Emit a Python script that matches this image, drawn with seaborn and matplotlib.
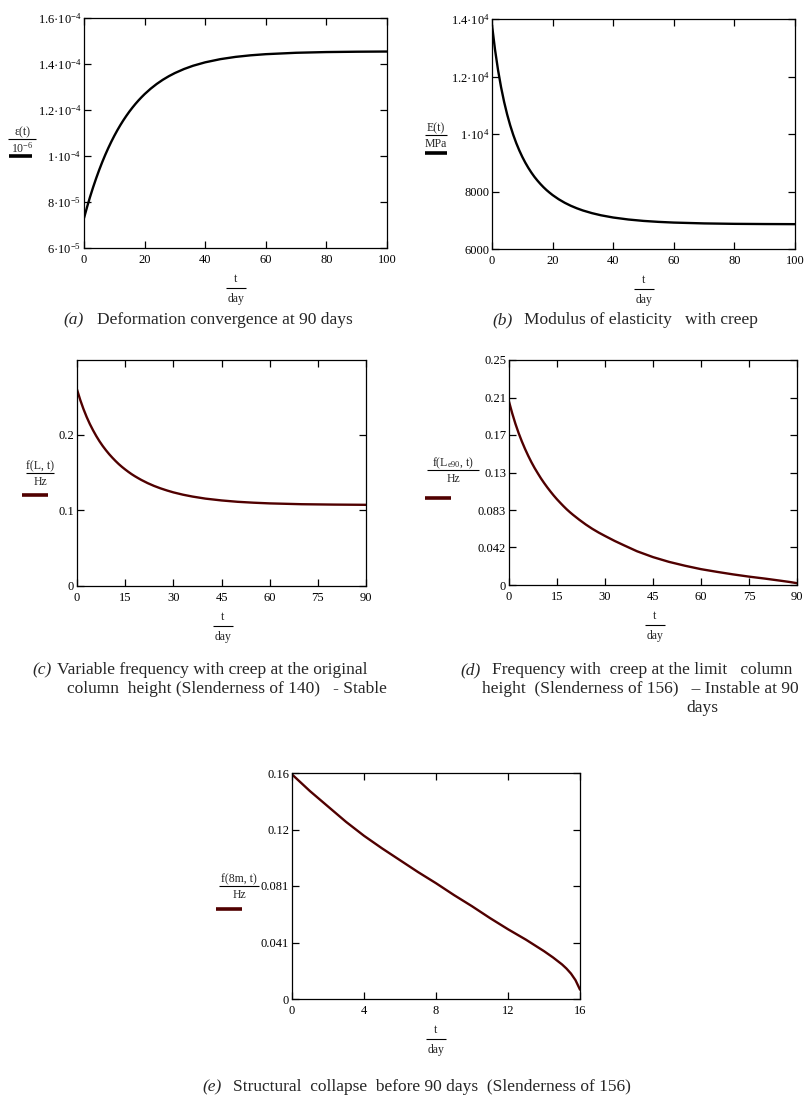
import numpy as np
import pandas as pd
import matplotlib
matplotlib.use("Agg")
import matplotlib.pyplot as plt
from matplotlib.lines import Line2D
from matplotlib.ticker import FixedLocator, FixedFormatter
import seaborn as sns

# (a) deformation eps(t), values in units of 1e-5
t_a = [0, 1, 2, 3, 4, 5, 6, 7, 8, 9, 10, 11, 12, 13, 14, 15, 16, 17, 18, 19, 20,
       22, 24, 26, 28, 30, 33, 36, 40, 45, 50, 55, 60, 70, 80, 90, 100]
eps_a = [7.30, 7.776, 8.222, 8.638, 9.026, 9.389, 9.729, 10.046, 10.342, 10.618, 10.877,
         11.119, 11.344, 11.555, 11.751, 11.936, 12.107, 12.268, 12.418, 12.558, 12.690,
         12.926, 13.133, 13.313, 13.470, 13.607, 13.781, 13.924, 14.073, 14.211, 14.309,
         14.378, 14.427, 14.488, 14.519, 14.534, 14.542]
yticks_a = [6e-5, 8e-5, 1e-4, 1.2e-4, 1.4e-4, 1.6e-4]
ylabels_a = ["6·10$^{-5}$", "8·10$^{-5}$", "1·10$^{-4}$", "1.2·10$^{-4}$", "1.4·10$^{-4}$", "1.6·10$^{-4}$"]

# (b) modulus E(t) in MPa
t_b = t_a
E_b = [13790, 12932, 12220, 11624, 11116, 10681, 10303, 9974, 9685, 9431, 9204, 9002, 8821,
       8658, 8510, 8379, 8259, 8149, 8049, 7960, 7876, 7731, 7608, 7504, 7416, 7340, 7247,
       7172, 7095, 7026, 6977, 6943, 6919, 6890, 6875, 6868, 6864]
yticks_b = [6000, 8000, 10000, 12000, 14000]
ylabels_b = ["6000", "8000", "1·10$^{4}$", "1.2·10$^{4}$", "1.4·10$^{4}$"]

# (c) frequency at original height (Hz)
t_c = [0, 1, 2, 3, 4, 5, 6, 7, 8, 9, 10, 11, 12, 13, 14, 15, 16, 17, 18, 19, 20,
       22, 24, 26, 28, 30, 33, 36, 40, 45, 50, 55, 60, 70, 80, 90]
f_c = [0.2600, 0.2463, 0.2343, 0.2237, 0.2143, 0.2060, 0.1984, 0.1915, 0.1853, 0.1797,
       0.1745, 0.1698, 0.1654, 0.1613, 0.1576, 0.1542, 0.1510, 0.1480, 0.1453, 0.1428,
       0.1404, 0.1361, 0.1324, 0.1292, 0.1264, 0.1239, 0.1208, 0.1183, 0.1156, 0.1132,
       0.1114, 0.1102, 0.1093, 0.1082, 0.1077, 0.1074]
yticks_c = [0, 0.1, 0.2]
ylabels_c = ["0", "0.1", "0.2"]

# (d) frequency at limit height (Hz)
t_d = [0, 1, 2, 3, 4, 5, 6, 7, 8, 9, 10, 11, 12, 13, 14, 15, 16, 17, 18, 19, 20,
       22, 24, 26, 28, 30, 33, 36, 40, 45, 50, 55, 60, 65, 70, 75, 80, 85, 88, 90]
f_d = [0.2038, 0.1908, 0.1792, 0.1689, 0.1597, 0.1513, 0.1436, 0.1365, 0.1300, 0.1241,
       0.1184, 0.1132, 0.1083, 0.1037, 0.0993, 0.0952, 0.0914, 0.0877, 0.0842, 0.0810,
       0.0780, 0.0724, 0.0672, 0.0625, 0.0583, 0.0545, 0.0490, 0.0440, 0.0375, 0.0310,
       0.0257, 0.0214, 0.0176, 0.0146, 0.0118, 0.0093, 0.0071, 0.0047, 0.0032, 0.0020]
yticks_d = [0, 0.0417, 0.0833, 0.125, 0.1667, 0.2083, 0.25]
ylabels_d = ["0", "0.042", "0.083", "0.13", "0.17", "0.21", "0.25"]

# (e) frequency of 8 m column (Hz)
t_e = [0, 1, 2, 3, 4, 5, 6, 7, 8, 9, 10, 11, 12, 13, 14, 14.5, 15, 15.25, 15.5, 15.75, 16]
f_e = [0.161, 0.149, 0.138, 0.127, 0.117, 0.108, 0.0995, 0.091, 0.083, 0.0745, 0.0665,
       0.058, 0.050, 0.0425, 0.0343, 0.0298, 0.0248, 0.0218, 0.0182, 0.0135, 0.0067]
yticks_e = [0, 0.0405, 0.081, 0.1215, 0.162]
ylabels_e = ["0", "0.041", "0.081", "0.12", "0.16"]

BLACK = "#000000"
MAROON = "#500000"
TICK_FS = 9
LAB_FS = 8.5
CAP_FS = 12.5
LW = 1.7

sns.set_theme(style="white")
plt.rcParams["font.family"] = ["Liberation Serif", "DejaVu Serif"]
plt.rcParams["mathtext.fontset"] = "custom"
plt.rcParams["mathtext.rm"] = "Liberation Serif"
plt.rcParams["mathtext.it"] = "Liberation Serif:italic"
plt.rcParams["mathtext.default"] = "regular"

W, H = 805, 1097
fig = plt.figure(figsize=(W / 100, H / 100), dpi=100)
fig.patch.set_facecolor("white")


def fx(x):
    return x / W


def fy(y):
    return 1 - y / H


def make_ax(left, top, right, bottom):
    return fig.add_axes([fx(left), fy(bottom), (right - left) / W, (bottom - top) / H])


def hline(x0, x1, y, lw=0.8, color="black"):
    fig.add_artist(Line2D([fx(x0), fx(x1)], [fy(y), fy(y)], transform=fig.transFigure,
                          lw=lw, color=color, solid_capstyle="butt"))


def style(ax, xlim, xticks, ylim, yticks, ylabels):
    ax.set_xlim(*xlim)
    ax.set_ylim(*ylim)
    ax.xaxis.set_major_locator(FixedLocator(xticks))
    ax.set_xticklabels([str(v) for v in xticks])
    ax.yaxis.set_major_locator(FixedLocator(yticks))
    ax.yaxis.set_major_formatter(FixedFormatter(ylabels))
    ax.tick_params(direction="in", length=5, width=0.9, top=True, right=True,
                   bottom=True, left=True, labelsize=TICK_FS, colors="black")
    ax.tick_params(axis="x", pad=4)
    ax.tick_params(axis="y", pad=2)
    for s in ax.spines.values():
        s.set_visible(True)
        s.set_linewidth(0.9)
        s.set_color("black")
    ax.set_xlabel("")
    ax.set_ylabel("")
    ax.grid(False)


def xfrac(cx, ybottom):
    fig.text(fx(cx), fy(ybottom + 31), "t", ha="center", va="center", fontsize=LAB_FS)
    hline(cx - 10, cx + 10, ybottom + 40)
    fig.text(fx(cx), fy(ybottom + 51), "day", ha="center", va="center", fontsize=LAB_FS)


def yfrac(cx, ytop, num, den, x0, x1, ybar, color, half=14):
    fig.text(fx(cx), fy(ytop), num, ha="center", va="center", fontsize=LAB_FS)
    hline(cx - half, cx + half, ytop + 7)
    fig.text(fx(cx), fy(ytop + 16), den, ha="center", va="center", fontsize=LAB_FS)
    hline(x0, x1, ybar, lw=2.6, color=color)


def caption(xlab, y, label, lines):
    fig.text(fx(xlab), fy(y), label, ha="left", va="center", fontsize=CAP_FS, style="italic")
    for (txt, cx, yy, ha) in lines:
        fig.text(fx(cx), fy(yy), txt, ha=ha, va="center", fontsize=CAP_FS)


# (a)
ax = make_ax(84, 18, 387, 248)
sns.lineplot(x=t_a, y=np.array(eps_a) * 1e-5, ax=ax, color=BLACK, linewidth=LW)
style(ax, (0, 100), [0, 20, 40, 60, 80, 100], (6e-5, 1.6e-4), yticks_a, ylabels_a)
xfrac(236, 248)
yfrac(22, 132, "ε(t)", "10$^{-6}$", 9, 32, 156, BLACK)
caption(63, 320, "(a)", [("Deformation convergence at 90 days", 97, 320, "left")])

# (b)
ax = make_ax(492, 19, 795, 249)
sns.lineplot(x=t_b, y=E_b, ax=ax, color=BLACK, linewidth=LW)
style(ax, (0, 100), [0, 20, 40, 60, 80, 100], (6000, 14000), yticks_b, ylabels_b)
xfrac(644, 249)
yfrac(436, 128, "E(t)", "MPa", 425, 447, 153, BLACK, half=11)
caption(492, 320, "(b)", [("Modulus of elasticity   with creep", 524, 320, "left")])

# (c)
ax = make_ax(77, 360, 366, 586)
sns.lineplot(x=t_c, y=f_c, ax=ax, color=MAROON, linewidth=LW)
style(ax, (0, 90), [0, 15, 30, 45, 60, 75, 90], (0, 0.299), yticks_c, ylabels_c)
xfrac(223, 586)
yfrac(40, 466, "f(L, t)", "Hz", 22, 48, 495, MAROON)
caption(32, 670, "(c)", [("Variable frequency with creep at the original", 57, 670, "left"),
                         ("column  height (Slenderness of 140)   - Stable", 227, 689, "center")])

# (d)
ax = make_ax(509, 360, 797, 585)
sns.lineplot(x=t_d, y=f_d, ax=ax, color=MAROON, linewidth=LW)
style(ax, (0, 90), [0, 15, 30, 45, 60, 75, 90], (0, 0.25), yticks_d, ylabels_d)
xfrac(655, 585)
yfrac(453, 463, "f(L$_{e90}$, t)", "Hz", 425, 451, 498, MAROON, half=26)
caption(460, 670, "(d)", [("Frequency with  creep at the limit   column", 492, 670, "left"),
                          ("height  (Slenderness of 156)   – Instable at 90", 640, 689, "center"),
                          ("days", 702, 708, "center")])

# (e)
ax = make_ax(292, 773, 580, 999)
sns.lineplot(x=t_e, y=f_e, ax=ax, color=MAROON, linewidth=LW)
style(ax, (0, 16), [0, 4, 8, 12, 16], (0, 0.162), yticks_e, ylabels_e)
xfrac(436, 999)
yfrac(239, 879, "f(8m, t)", "Hz", 216, 242, 909, MAROON, half=20)
caption(202, 1087, "(e)", [("Structural  collapse  before 90 days  (Slenderness of 156)", 233, 1087, "left")])

fig.savefig("out.png", dpi=100, facecolor="white")
